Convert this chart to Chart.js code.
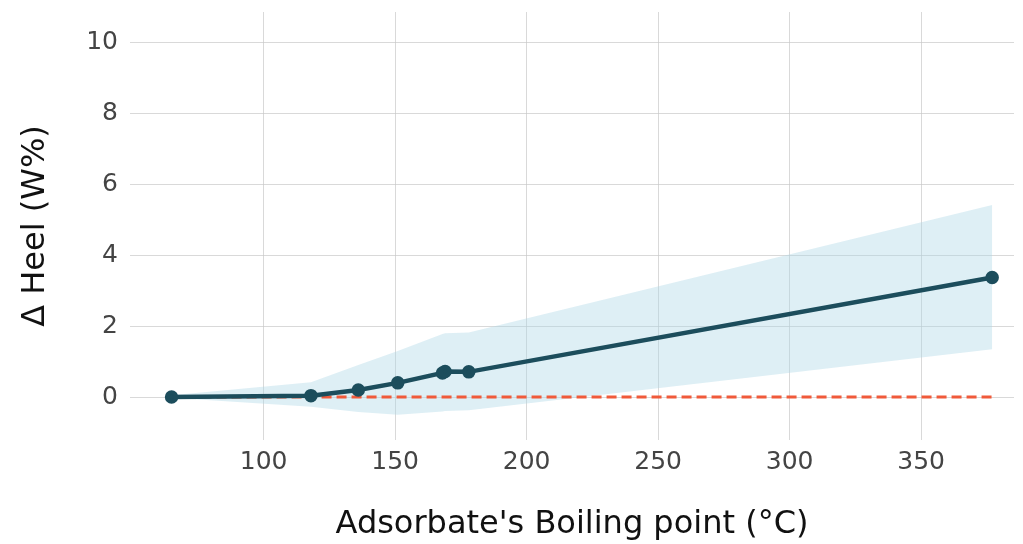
<!DOCTYPE html>
<html>
<head>
<meta charset="utf-8">
<script src="https://cdn.jsdelivr.net/npm/chart.js@4"></script>
<style>
  html, body { margin: 0; padding: 0; background: #fff; }
  #wrap { width: 1023px; height: 544px; }
</style>
</head>
<body>
<div id="wrap"><canvas id="heelChart" width="1023" height="544"></canvas></div>
<script>
// Boiling point of each adsorbate (°C) and the measured heel change
const boilingPoint = [65, 118, 136, 151, 168, 169, 178, 377];
const heelDelta = [0.0, 0.04, 0.2, 0.4, 0.68, 0.72, 0.71, 3.37];
// confidence band around the fit
const bandUpper = [0.05, 0.42, 0.9, 1.3, 1.78, 1.8, 1.82, 5.41];
const bandLower = [-0.02, -0.27, -0.42, -0.5, -0.41, -0.39, -0.37, 1.35];
// zero reference line
const refX = [65, 377];
const refY = [0, 0];

const xTicks = [100, 150, 200, 250, 300, 350];
const yTicks = [0, 2, 4, 6, 8, 10];

function pts(xs, ys) {
    return xs.map((x, i) => ({ x: x, y: ys[i] }));
}

document.addEventListener("DOMContentLoaded", function() {
    const ctx = document.getElementById('heelChart').getContext('2d');
    const font = "'DejaVu Sans', sans-serif";

    new Chart(ctx, {
        type: 'scatter',
        data: {
            datasets: [
                {
                    label: 'lower',
                    data: pts(boilingPoint, bandLower),
                    showLine: true,
                    borderWidth: 0,
                    pointRadius: 0,
                    fill: false,
                    order: 3
                },
                {
                    label: 'upper',
                    data: pts(boilingPoint, bandUpper),
                    showLine: true,
                    borderWidth: 0,
                    pointRadius: 0,
                    backgroundColor: 'rgba(173, 216, 230, 0.4)',
                    fill: '-1',
                    order: 3
                },
                {
                    label: 'zero',
                    data: pts(refX, refY),
                    showLine: true,
                    borderColor: '#f05a3a',
                    borderWidth: 3,
                    borderDash: [10, 5],
                    pointRadius: 0,
                    fill: false,
                    order: 2
                },
                {
                    label: 'heel',
                    data: pts(boilingPoint, heelDelta),
                    showLine: true,
                    borderColor: '#1c4d5c',
                    backgroundColor: '#1c4d5c',
                    borderWidth: 4.5,
                    pointRadius: 4.5,
                    fill: false,
                    order: 1
                }
            ]
        },
        options: {
            responsive: false,
            animation: false,
            layout: { padding: { left: 0, right: 3, top: 12, bottom: 0 } },
            plugins: {
                legend: { display: false },
                tooltip: { enabled: false }
            },
            scales: {
                x: {
                    type: 'linear',
                    min: 49.2,
                    max: 385.3,
                    border: { display: false },
                    afterBuildTicks: axis => { axis.ticks = xTicks.map(v => ({ value: v })); },
                    afterFit: axis => { axis.height = 104; },
                    grid: {
                        color: '#c8c8c8',
                        lineWidth: 0.7,
                        borderDash: [1.5, 2],
                        drawTicks: false
                    },
                    ticks: {
                        color: '#444444',
                        font: { family: font, size: 25 },
                        padding: 7
                    },
                    title: {
                        display: true,
                        text: "Adsorbate's Boiling point (°C)",
                        color: '#111111',
                        font: { family: font, size: 32 },
                        padding: { top: 0, bottom: 0 }
                    }
                },
                y: {
                    type: 'linear',
                    min: -1.21,
                    max: 10.85,
                    border: { display: false },
                    afterBuildTicks: axis => { axis.ticks = yTicks.map(v => ({ value: v })); },
                    afterFit: axis => {
                        axis.width = 130;
                        axis.paddingTop = 0;
                        axis.paddingBottom = 0;
                    },
                    grid: {
                        color: '#c8c8c8',
                        lineWidth: 0.7,
                        borderDash: [1.5, 2],
                        drawTicks: false
                    },
                    ticks: {
                        color: '#444444',
                        font: { family: font, size: 25 },
                        padding: 12
                    },
                    title: {
                        display: true,
                        text: 'Δ Heel (W%)',
                        color: '#111111',
                        font: { family: font, size: 32 },
                        padding: { top: 16, bottom: 0 }
                    }
                }
            }
        }
    });
});
</script>
</body>
</html>
